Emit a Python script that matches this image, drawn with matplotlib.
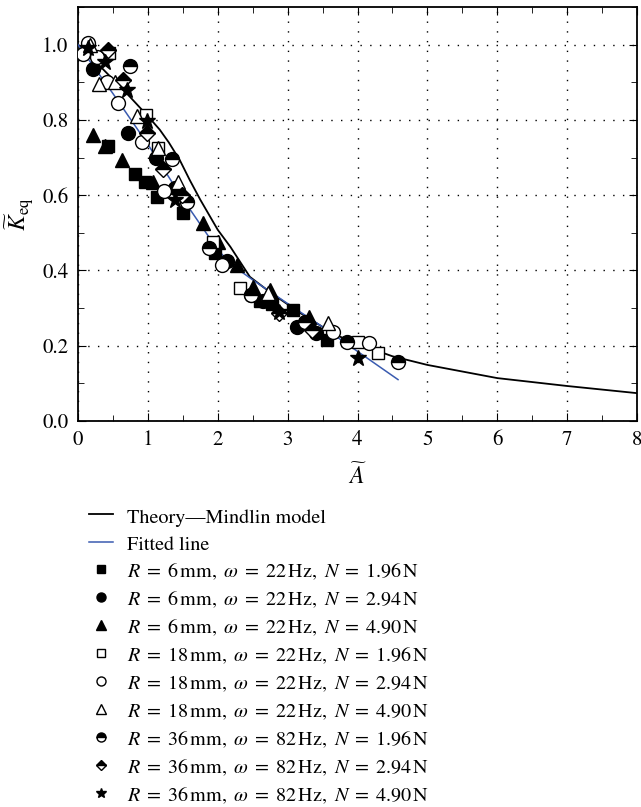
import matplotlib.pyplot as plt
import numpy as np
from matplotlib.ticker import MultipleLocator

plt.rcParams['font.family'] = 'STIXGeneral'
plt.rcParams['mathtext.fontset'] = 'stix'
plt.rcParams['font.size'] = 14

# theory curve (Mindlin model)
A_theory = [0, 0.25, 0.5, 0.75, 1.0, 1.17, 1.3, 1.46, 1.6, 1.75, 2.0, 2.18, 2.46, 2.75, 3.0, 3.18, 3.5, 3.75, 4.0, 4.5, 5.0, 6.0, 7.0, 8.0]
K_theory = [1.0, 0.955, 0.908, 0.86, 0.81, 0.774, 0.74, 0.692, 0.64, 0.588, 0.508, 0.463, 0.383, 0.342, 0.31, 0.287, 0.25, 0.224, 0.205, 0.172, 0.149, 0.114, 0.093, 0.074]

# fitted line
A_fit = [0, 0.5, 1.0, 1.5, 2.0, 2.2, 2.5, 3.0, 3.5, 4.0, 4.58]
K_fit = [1.0, 0.87, 0.735, 0.59, 0.455, 0.415, 0.375, 0.312, 0.25, 0.185, 0.11]

# measurements
A_r6_n196 = [0.43, 0.82, 0.96, 1.13, 1.5, 1.96, 2.6, 2.78, 3.08, 3.56]
K_r6_n196 = [0.73, 0.657, 0.636, 0.596, 0.553, 0.447, 0.32, 0.31, 0.295, 0.215]

A_r6_n294 = [0.21, 0.72, 1.12, 1.39, 2.13, 2.65, 3.13, 3.4]
K_r6_n294 = [0.936, 0.766, 0.70, 0.62, 0.425, 0.32, 0.25, 0.234]

A_r6_n490 = [0.22, 0.38, 0.63, 1.08, 1.79, 2.0, 2.28, 2.51, 2.75, 3.3]
K_r6_n490 = [0.76, 0.73, 0.694, 0.636, 0.527, 0.476, 0.415, 0.356, 0.348, 0.277]

A_r18_n196 = [0.45, 0.98, 1.15, 1.93, 2.32, 4.01, 4.3]
K_r18_n196 = [0.978, 0.814, 0.726, 0.476, 0.354, 0.21, 0.18]

A_r18_n294 = [0.14, 0.07, 0.27, 0.41, 0.57, 0.91, 1.23, 2.06, 2.48, 3.65, 4.16]
K_r18_n294 = [1.005, 0.976, 0.968, 0.90, 0.846, 0.742, 0.612, 0.415, 0.335, 0.237, 0.207]

A_r18_n490 = [0.17, 0.3, 0.53, 0.84, 1.15, 1.43, 2.72, 3.58]
K_r18_n490 = [1.0, 0.896, 0.90, 0.81, 0.726, 0.636, 0.34, 0.261]

A_r36_n196 = [0.75, 1.35, 1.56, 1.88, 2.48, 3.25, 3.85, 4.58]
K_r36_n196 = [0.944, 0.697, 0.583, 0.46, 0.335, 0.264, 0.21, 0.157]

A_r36_n294 = [0.43, 0.65, 0.99, 1.22, 1.49, 2.87, 3.35]
K_r36_n294 = [0.987, 0.907, 0.766, 0.67, 0.60, 0.287, 0.242]

A_r36_n490 = [0.15, 0.39, 0.70, 0.99, 1.39, 2.87, 4.0]
K_r36_n490 = [0.99, 0.955, 0.88, 0.797, 0.588, 0.29, 0.168]


def lab(r, w, n):
    return (r'$R\;=\;' + r + r'\,\mathrm{mm},\ \omega\;=\;' + w +
            r'\,\mathrm{Hz},\ N\;=\;' + n + r'\,\mathrm{N}$')


fig = plt.figure(figsize=(6.41, 8.07), dpi=100)
ax = fig.add_axes([78/641, 1-421/807, (637-78)/641, (421-7)/807])

ax.plot(A_theory, K_theory, color='black', lw=1.3, label='Theory\u2014Mindlin model', zorder=2)
ax.plot(A_fit, K_fit, color='#3a5bb0', lw=1.1, label='Fitted line', zorder=3)

ms = 10
ls = dict(linestyle='none', markeredgecolor='black', markeredgewidth=1.0, zorder=4)
ax.plot(A_r6_n196, K_r6_n196, 's', color='black', ms=ms*0.9, label=lab('6', '22', '1.96'), **ls)
ax.plot(A_r6_n294, K_r6_n294, 'o', color='black', ms=ms, label=lab('6', '22', '2.94'), **ls)
ax.plot(A_r6_n490, K_r6_n490, '^', color='black', ms=ms, label=lab('6', '22', '4.90'), **ls)
ax.plot(A_r18_n196, K_r18_n196, 's', markerfacecolor='white', ms=ms*0.9,
        label=lab('18', '22', '1.96'), **ls)
ax.plot(A_r18_n294, K_r18_n294, 'o', markerfacecolor='white', ms=ms,
        label=lab('18', '22', '2.94'), **ls)
ax.plot(A_r18_n490, K_r18_n490, '^', markerfacecolor='white', ms=ms,
        label=lab('18', '22', '4.90'), **ls)
ax.plot(A_r36_n196, K_r36_n196, 'o', markerfacecolor='black', markerfacecoloralt='white',
        fillstyle='top', ms=ms, label=lab('36', '82', '1.96'), **ls)
ax.plot(A_r36_n294, K_r36_n294, 'D', markerfacecolor='black', markerfacecoloralt='white',
        fillstyle='top', ms=ms*0.85, label=lab('36', '82', '2.94'), **ls)
ax.plot(A_r36_n490, K_r36_n490, '*', color='black', ms=ms*1.2,
        label=lab('36', '82', '4.90'), **ls)

ax.set_xlim(0, 8)
ax.set_ylim(0, 1.1)
ax.xaxis.set_major_locator(MultipleLocator(1))
ax.xaxis.set_minor_locator(MultipleLocator(0.5))
ax.yaxis.set_minor_locator(MultipleLocator(0.1))
ax.set_yticks([0, 0.2, 0.4, 0.6, 0.8, 1.0])
ax.set_yticklabels(['0.0', '0.2', '0.4', '0.6', '0.8', '1.0'])
ax.tick_params(which='both', direction='in', top=True, right=True, labelsize=15, pad=7)
ax.tick_params(which='major', length=6)
ax.tick_params(which='minor', length=4)
ax.grid(True, which='major', color='black', linestyle=(0, (1, 6)), lw=1.0)
for s in ax.spines.values():
    s.set_linewidth(1.3)

ax.set_xlabel(r'$\widetilde{A}$', fontsize=17, labelpad=9)
ax.set_ylabel(r'$\widetilde{K}_{\mathrm{eq}}$', fontsize=17, labelpad=4)

h, l = ax.get_legend_handles_labels()
fig.legend(h, l, loc='upper left', bbox_to_anchor=(89/641, 1-506/807), frameon=False,
           fontsize=14.5, handlelength=1.2, handletextpad=0.7, labelspacing=0.34,
           handleheight=1.1, markerscale=0.65, borderaxespad=0, borderpad=0)

fig.savefig('out.png', dpi=100)
